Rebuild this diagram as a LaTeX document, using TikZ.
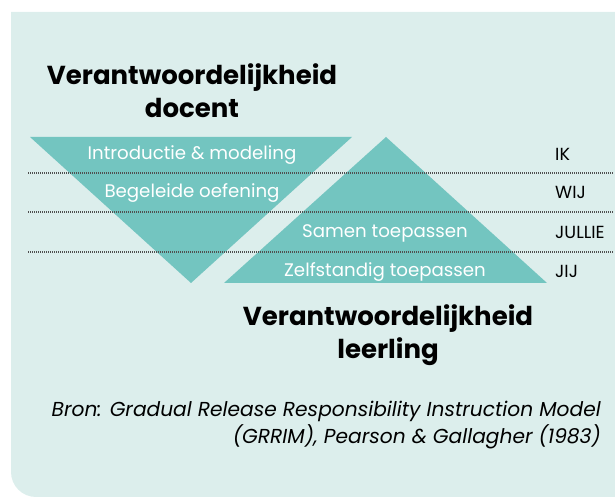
\documentclass[tikz,border=0pt]{standalone}
\usepackage{fontspec}
\setmainfont{Poppins}
\definecolor{panel}{RGB}{220,238,236}
\definecolor{teal}{RGB}{115,197,192}
\definecolor{dotc}{RGB}{80,80,80}
\begin{document}
\begin{tikzpicture}[x=1pt,y=1pt,
  title/.style={font=\fontsize{26}{33}\selectfont\bfseries, align=center, text=black, inner sep=0},
  intext/.style={font=\fontsize{18.2}{20}\selectfont, text=white, inner sep=0},
  side/.style={font=\fontsize{17.5}{18}\selectfont, text=black, anchor=west, inner sep=0},
  dotline/.style={draw=dotc, line width=1.1pt, dash pattern=on 1pt off 1pt},
  caption/.style={font=\fontsize{20.2}{27}\selectfont\itshape, align=right, anchor=east, inner sep=0}]
\useasboundingbox (0,0) rectangle (615,497);
\fill[panel] (11,485) -- (615,485) -- (615,0) -- (36,0) arc (-90:-180:25) -- cycle;
% triangles
\fill[teal] (30,360) -- (352,360) -- (191,214) -- cycle;
\fill[teal] (386,360) -- (547,214) -- (224,214) -- cycle;
% dotted lines
\coordinate (l1a) at (28,324); \coordinate (l1b) at (613,324);
\coordinate (l2a) at (28,285); \coordinate (l2b) at (613,285);
\coordinate (l3a) at (28,245); \coordinate (l3b) at (613,245);
\draw[dotline] (l1a) -- (l1b);
\draw[dotline] (l2a) -- (l2b);
\draw[dotline] (l3a) -- (l3b);
% titles
\node[title] (tdoc) at (192,406) {Verantwoordelijkheid\\docent};
\node[title] (tleer) at (388,162) {Verantwoordelijkheid\\leerling};
% stage texts
\node[intext] (s1) at (192,342) {Introductie \& modeling};
\node[intext] (s2) at (192,304) {Begeleide oefening};
\node[intext] (s3) at (385,264) {Samen toepassen};
\node[intext] (s4) at (385,225) {Zelfstandig toepassen};
% side labels
\node[side] (ik) at (555,343) {IK};
\node[side] (wij) at (555,305) {WIJ};
\node[side] (jullie) at (555,265) {JULLIE};
\node[side] (jij) at (555,226) {JIJ};
% caption
\node[caption] (cap) at (601,72) {Bron: Gradual Release Responsibility Instruction Model\\(GRRIM), Pearson \& Gallagher (1983)};
\end{tikzpicture}
\end{document}
